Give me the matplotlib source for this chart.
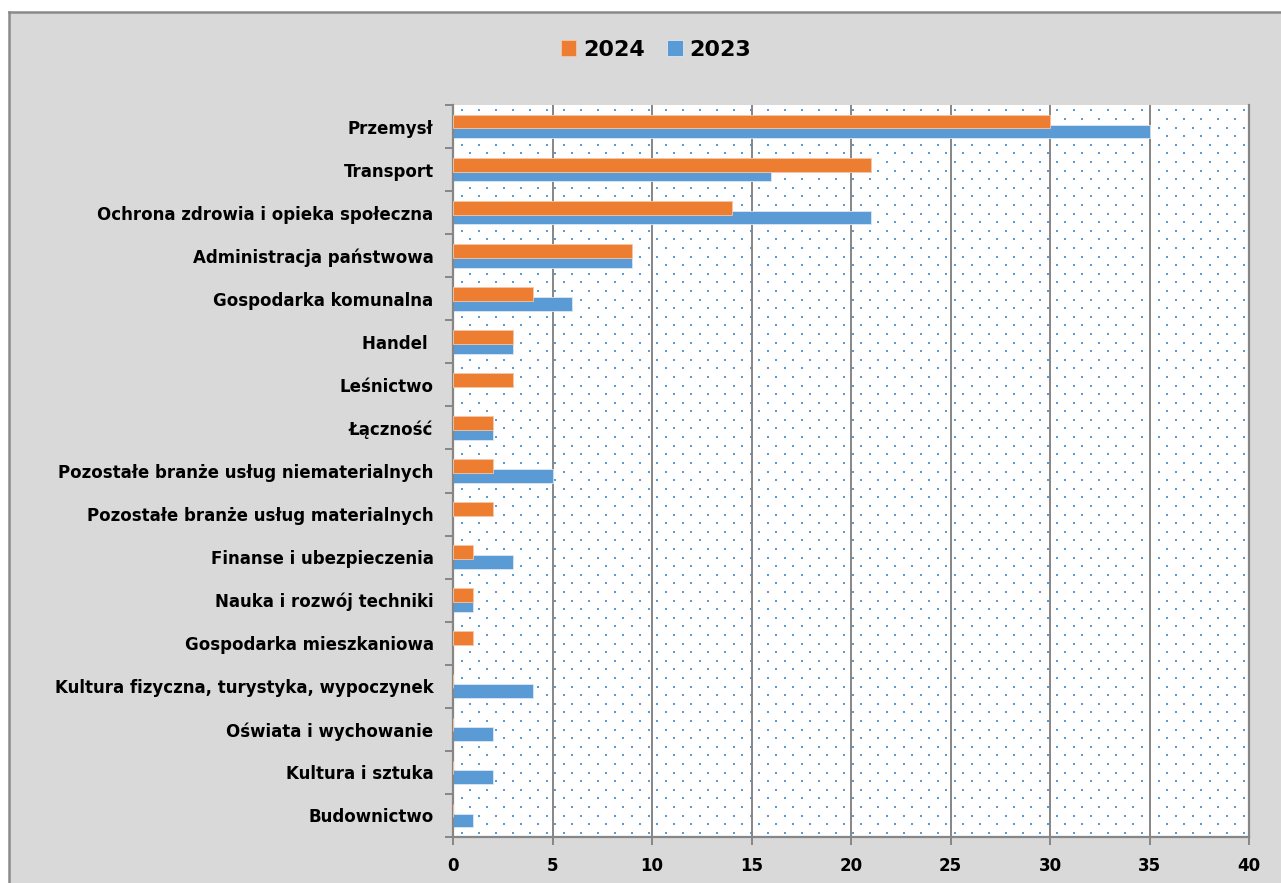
"""Liczba zdarzeń wg branży, 2024 vs 2023 (poziomy wykres słupkowy)."""

import matplotlib

matplotlib.use("Agg")

import matplotlib.pyplot as plt
import numpy as np
from matplotlib.lines import Line2D
from matplotlib.patches import Rectangle

categories = [
    "Przemysł",
    "Transport",
    "Ochrona zdrowia i opieka społeczna",
    "Administracja państwowa",
    "Gospodarka komunalna",
    "Handel ",
    "Leśnictwo",
    "Łączność",
    "Pozostałe branże usług niematerialnych",
    "Pozostałe branże usług materialnych",
    "Finanse i ubezpieczenia",
    "Nauka i rozwój techniki",
    "Gospodarka mieszkaniowa",
    "Kultura fizyczna, turystyka, wypoczynek",
    "Oświata i wychowanie",
    "Kultura i sztuka",
    "Budownictwo",
]
values_2024 = [30, 21, 14, 9, 4, 3, 3, 2, 2, 2, 1, 1, 1, 0, 0, 0, 0]
values_2023 = [35, 16, 21, 9, 6, 3, 0, 2, 5, 0, 3, 1, 0, 4, 2, 2, 1]
x_ticks = [0, 5, 10, 15, 20, 25, 30, 35, 40]

ORANGE = "#ED7D31"
BLUE = "#5B9BD5"
GRID = "#868686"
BG = "#D9D9D9"
BORDER = "#8A8A8A"

W, H = 1281, 883
fig = plt.figure(figsize=(W / 100, H / 100), dpi=100, facecolor="white")

# grey chart area; border only on the left and top edges (rest runs off the image)
fig.patches.append(
    Rectangle((9 / W, 0), 1, 1 - 12 / H, transform=fig.transFigure,
              facecolor=BG, edgecolor="none", zorder=-10)
)
fig.lines.append(Line2D([9 / W, 9 / W], [0, 1 - 11.5 / H], transform=fig.transFigure,
                        color=BORDER, linewidth=1.8, zorder=-9))
fig.lines.append(Line2D([9 / W, 1], [1 - 12 / H, 1 - 12 / H], transform=fig.transFigure,
                        color=BORDER, linewidth=1.8, zorder=-9))

ax = fig.add_axes([453 / W, 46 / H, (1249 - 453) / W, (778 - 46) / H])
ax.set_facecolor("white")

# dotted pattern of the plot area
dx, dy = 17 / 796, 8.6 / 732
xs, ys = [], []
for i, yy in enumerate(np.arange(dy / 2, 1, dy)):
    start = dx / 2 if i % 2 == 0 else dx
    for xx in np.arange(start, 1, dx):
        xs.append(xx)
        ys.append(yy)
ax.scatter(xs, ys, s=2.2, marker="s", color=BLUE, linewidths=0,
           transform=ax.transAxes, zorder=0.5, clip_on=True)

y = np.arange(len(categories))
h = 0.32
off = 0.115
ax.barh(y + off, values_2023, height=h, color=BLUE, edgecolor="#DCE8F5",
        linewidth=0.6, label="2023", zorder=2)
ax.barh(y - off, values_2024, height=h, color=ORANGE, edgecolor="#F6C8A8",
        linewidth=0.6, label="2024", zorder=3)

ax.set_ylim(len(categories) - 0.5, -0.5)
ax.set_xlim(0, 40)
ax.set_xticks(x_ticks)
ax.set_xticklabels([str(t) for t in x_ticks], fontsize=12, fontweight="bold")
ax.set_yticks(y)
ax.set_yticklabels(categories, fontsize=12, fontweight="bold")
ax.set_yticks(np.arange(-0.5, len(categories)), minor=True)

ax.tick_params(axis="y", which="major", length=0, pad=14)
ax.tick_params(axis="y", which="minor", length=5.5, width=1.4, color=GRID,
               direction="out")
ax.tick_params(axis="x", which="major", length=5.5, width=1.4, color=GRID,
               direction="out", pad=9)

ax.grid(axis="x", color=GRID, linewidth=1.4)
for line in ax.get_xgridlines():
    line.set_zorder(1)

ax.spines["top"].set_visible(False)
for side in ["left", "bottom", "right"]:
    ax.spines[side].set_color(GRID)
    ax.spines[side].set_linewidth(1.6)

handles, labels = ax.get_legend_handles_labels()
fig.legend(handles[::-1], labels[::-1], loc="center", bbox_to_anchor=(656 / W, 1 - 50 / H),
           ncol=2, frameon=False, prop={"size": 16, "weight": "bold"},
           handlelength=0.7, handleheight=0.7, handletextpad=0.3, columnspacing=1.0)

fig.savefig("out.png", dpi=100, facecolor=fig.get_facecolor())
